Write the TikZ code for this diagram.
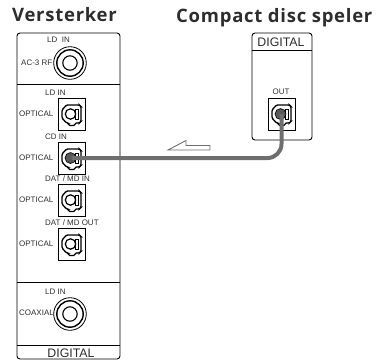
\documentclass[tikz,border=0pt]{standalone}
\usepackage{fontspec}
\setmainfont{Liberation Sans}
\newfontfamily\headfont[LetterSpace=4]{Open Sans}
\usetikzlibrary{calc}
\definecolor{inkgray}{RGB}{45,45,45}
\definecolor{cablegray}{RGB}{110,110,110}
\tikzset{
  paneltext/.style={font=\fontsize{8pt}{9pt}\selectfont,text=inkgray,inner sep=0pt},
  headtext/.style={font=\fontsize{18.5bp}{20bp}\headfont\bfseries,text=inkgray,inner sep=0pt,anchor=base west},
  digitext/.style={font=\fontsize{12.4pt}{14pt}\selectfont,text=inkgray,inner sep=0pt},
  portbox/.style={draw=black,line width=0.7pt,minimum width=27bp,minimum height=32bp,inner sep=0pt}
}
% one optical socket, drawn round the centre of its box
\newcommand{\opticalport}[1]{
  \draw[line width=1.3bp,fill=white,rounded corners=1.2bp] ($(#1)+(-5bp,9bp)$) -- ($(#1)+(8bp,9bp)$) -- ($(#1)+(9.5bp,7.5bp)$) -- ($(#1)+(9.5bp,-7.5bp)$) -- ($(#1)+(8bp,-9bp)$) -- ($(#1)+(3.5bp,-9bp)$) -- ($(#1)+(3.5bp,-11.5bp)$) -- ($(#1)+(-3bp,-11.5bp)$) -- ($(#1)+(-3bp,-9bp)$) -- ($(#1)+(-5bp,-9bp)$) -- ($(#1)+(-9.5bp,-4bp)$) -- ($(#1)+(-9.5bp,4bp)$) -- cycle;
  \draw[line width=1.2bp] ($(#1)+(-1bp,0)$) circle (5.2bp);
  \draw[line width=0.8bp] ($(#1)+(3.5bp,5bp)$) rectangle ($(#1)+(6.5bp,-5bp)$);
}
% one round socket
\newcommand{\roundport}[1]{
  \draw[line width=0.8bp] (#1) circle (16.3bp);
  \draw[line width=1.4bp] (#1) circle (13.2bp);
  \draw[line width=1.1bp] (#1) circle (7.2bp);
}
\begin{document}
\begin{tikzpicture}[x=1bp,y=-1bp]
  \useasboundingbox (0,0) rectangle (377,361);
  % amplifier panel
  \draw[line width=0.9pt,rounded corners=3bp] (17,33) rectangle (120,359);
  \draw[line width=0.7pt] (17,84) -- (120,84);
  \draw[line width=0.7pt] (17,282) -- (120,282);
  \draw[line width=0.7pt] (17,345) -- (120,345);
  \node[headtext] (ampl) at (12,21.7) {Versterker};
  \node[digitext] (ampldig) at (71,353.5) {DIGITAL};
  % round sockets
  \coordinate (rfport) at (70,63);
  \coordinate (coaxport) at (70,314);
  \roundport{rfport}
  \roundport{coaxport}
  \node[paneltext] (rflabel) at (58.5,40) {LD\ \ IN};
  \node[paneltext,anchor=west] (rfname) at (21,63) {AC-3 RF};
  \node[paneltext,anchor=west] (coaxlabel) at (45,292) {LD IN};
  \node[paneltext,anchor=west] (coaxname) at (19,313) {COAXIAL};
  % optical sockets
  \foreach \n/\y/\t in {a/114/{LD IN},b/158/{CD IN},c/200/{DAT / MD IN},d/244/{DAT / MD OUT}}{
    \node[portbox] (box\n) at (71.5,\y) {};
    \node[paneltext,anchor=west] (top\n) at (45,\y-21.7) {\t};
    \node[paneltext,anchor=west] (name\n) at (19,\y) {OPTICAL};
    \opticalport{box\n.center}
  }
  % CD player panel
  \node[headtext] (cdhead) at (176,22) {Compact disc speler};
  \draw[line width=0.9pt,rounded corners=3bp] (252,33) rectangle (312,140);
  \draw[line width=0.7pt] (252,50) -- (312,50);
  \node[digitext] (cddig) at (281,42) {DIGITAL};
  \node[paneltext] (outlabel) at (281,92) {OUT};
  \node[portbox] (boxout) at (281.5,114) {};
  \opticalport{boxout.center}
  % cable
  \fill[cablegray!80!black] ($(boxb.center)+(-1,0)$) circle (5bp);
  \fill[cablegray!80!black] ($(boxout.center)+(-1,0)$) circle (5bp);
  \draw[cablegray,line width=4bp,rounded corners=14bp] (boxb.center) -| (boxout.center);
  % direction arrow
  \draw[cablegray,line width=0.9bp,fill=white] (168,150) -- (186,140.5) -- (186,145.5) -- (210,145.5) -- (210,150) -- cycle;
\end{tikzpicture}
\end{document}
